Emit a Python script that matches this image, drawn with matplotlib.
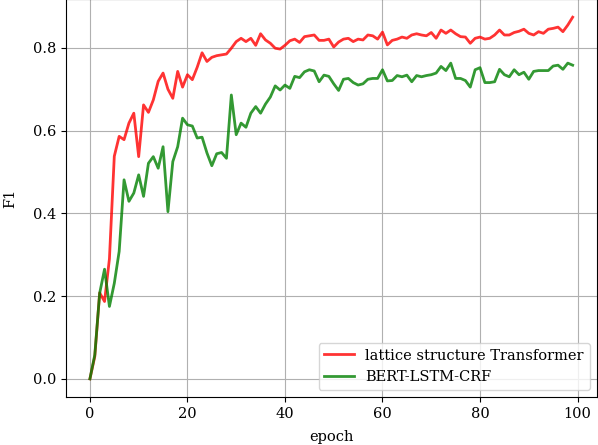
import matplotlib
matplotlib.use('Agg')
from matplotlib import pyplot as plt

epochs = list(range(100))

lattice_f1 = [
	0.0, 0.054, 0.208, 0.187, 0.29, 0.538, 0.586, 0.578, 0.618, 0.642,
	0.537, 0.662, 0.644, 0.674, 0.719, 0.739, 0.70, 0.678, 0.743, 0.705,
	0.735, 0.723, 0.753, 0.788, 0.767, 0.777, 0.781, 0.783, 0.785, 0.799,
	0.815, 0.823, 0.815, 0.823, 0.806, 0.834, 0.819, 0.811, 0.799, 0.797,
	0.806, 0.817, 0.821, 0.813, 0.827, 0.829, 0.831, 0.818, 0.818, 0.821,
	0.802, 0.814, 0.821, 0.823, 0.815, 0.821, 0.819, 0.831, 0.829, 0.821,
	0.838, 0.807, 0.818, 0.821, 0.826, 0.823, 0.831, 0.834, 0.831, 0.829,
	0.837, 0.823, 0.843, 0.835, 0.843, 0.834, 0.827, 0.826, 0.811, 0.823,
	0.826, 0.821, 0.823, 0.831, 0.843, 0.831, 0.831, 0.837, 0.840, 0.845,
	0.835, 0.831, 0.839, 0.835, 0.845, 0.847, 0.850, 0.839, 0.855, 0.874,
]

bert_f1 = [
	0.0, 0.058, 0.207, 0.265, 0.175, 0.231, 0.308, 0.481, 0.429, 0.449,
	0.493, 0.441, 0.521, 0.537, 0.509, 0.561, 0.404, 0.525, 0.561, 0.630,
	0.614, 0.611, 0.582, 0.584, 0.546, 0.515, 0.544, 0.547, 0.533, 0.686,
	0.590, 0.618, 0.608, 0.642, 0.658, 0.642, 0.664, 0.681, 0.708, 0.698,
	0.710, 0.702, 0.731, 0.728, 0.742, 0.747, 0.744, 0.718, 0.734, 0.731,
	0.713, 0.697, 0.724, 0.726, 0.716, 0.710, 0.713, 0.724, 0.726, 0.726,
	0.747, 0.720, 0.721, 0.733, 0.730, 0.734, 0.718, 0.733, 0.730, 0.733,
	0.735, 0.739, 0.755, 0.745, 0.763, 0.726, 0.726, 0.721, 0.705, 0.747,
	0.752, 0.716, 0.716, 0.718, 0.748, 0.735, 0.730, 0.747, 0.735, 0.741,
	0.724, 0.743, 0.745, 0.745, 0.745, 0.756, 0.758, 0.748, 0.763, 0.758,
]

labels = ['lattice structure Transformer', 'BERT-LSTM-CRF']


def main():
	plt.rcParams['font.family'] = ['DejaVu Serif']
	plt.rcParams['font.size'] = 10.5
	fig = plt.figure(figsize=(5.98, 4.45), dpi=100)
	ax = fig.add_axes([0.110, 0.108, 0.888, 0.894])

	ax.plot(epochs, lattice_f1, color='r', alpha=0.8, linewidth=2, label=labels[0])
	ax.plot(epochs, bert_f1, color='g', alpha=0.8, linewidth=2, label=labels[1])

	ax.set_xticks([0, 20, 40, 60, 80, 100])
	ax.set_yticks([0.0, 0.2, 0.4, 0.6, 0.8])
	ax.grid(True)
	ax.set_xlabel('epoch', labelpad=7)
	ax.set_ylabel('F1', labelpad=11)
	ax.legend(loc='lower right')

	fig.savefig('out.png')


if __name__ == "__main__":
	main()
